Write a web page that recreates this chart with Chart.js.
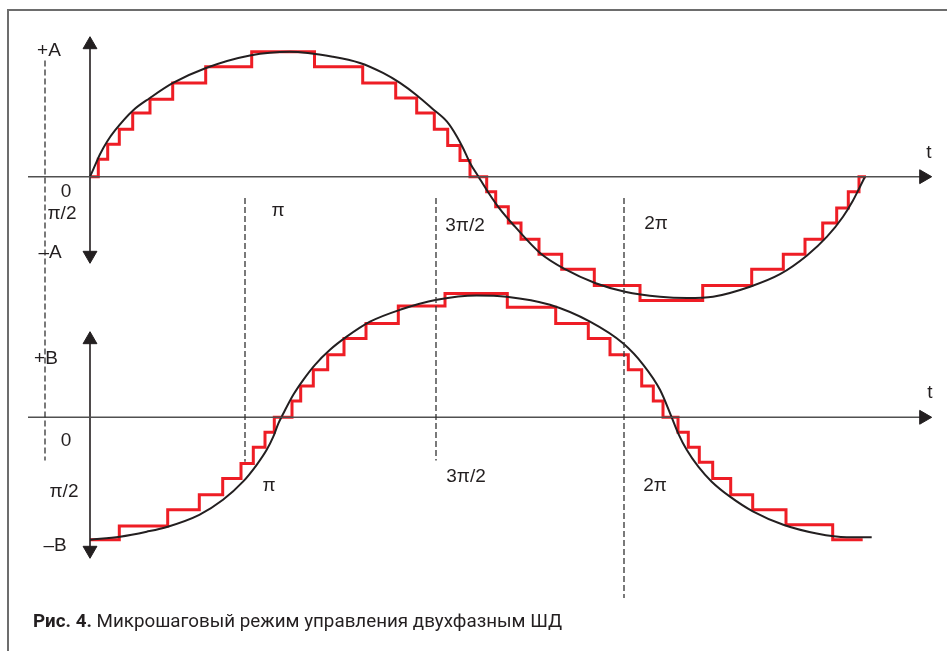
<!DOCTYPE html>
<html lang="ru">
<head>
  <meta charset="UTF-8" />
  <title>Рис. 4</title>
  <script src="https://cdn.jsdelivr.net/npm/chart.js"></script>
  <style>
    body { margin: 0; background: #fff; }
    .wrap { position: relative; width: 947px; height: 651px; overflow: hidden; font-family: "Liberation Sans", Arial, sans-serif; color: #231f20; }
    .frame { position: absolute; left: 7px; top: 9px; width: 960px; height: 660px; border-top: 2px solid #6d6d6d; border-left: 2px solid #6d6d6d; }
    canvas { position: absolute; left: 0; top: 0; }
    .lbl { position: absolute; font-size: 19px; transform: translate(-50%, -50%); white-space: nowrap; }
    .caption { position: absolute; left: 33px; top: 610px; font-family: Roboto, "Liberation Sans", sans-serif; font-size: 18.8px; white-space: nowrap; }
    .caption b { font-weight: 700; }
  </style>
</head>
<body>
  <div class="wrap">
    <div class="frame"></div>
    <canvas id="chart" width="947" height="651"></canvas>

    <!-- top panel labels -->
    <div class="lbl" style="left:49px;top:50px">+A</div>
    <div class="lbl" style="left:66px;top:191px">0</div>
    <div class="lbl" style="left:62px;top:213px">π/2</div>
    <div class="lbl" style="left:50px;top:252px">–A</div>
    <div class="lbl" style="left:278px;top:210px">π</div>
    <div class="lbl" style="left:465px;top:225px">3π/2</div>
    <div class="lbl" style="left:656px;top:223px">2π</div>
    <div class="lbl" style="left:929px;top:152px">t</div>

    <!-- bottom panel labels -->
    <div class="lbl" style="left:46px;top:358px">+B</div>
    <div class="lbl" style="left:66px;top:440px">0</div>
    <div class="lbl" style="left:64px;top:491px">π/2</div>
    <div class="lbl" style="left:55px;top:545px">–B</div>
    <div class="lbl" style="left:269px;top:485px">π</div>
    <div class="lbl" style="left:466px;top:476px">3π/2</div>
    <div class="lbl" style="left:655px;top:485px">2π</div>
    <div class="lbl" style="left:930px;top:392px">t</div>

    <div class="caption"><b>Рис. 4.</b> Микрошаговый режим управления двухфазным ШД</div>
  </div>

  <script>
    // time in arbitrary units (0 = vertical axis), amplitude in units of A / B

    // phase A: smooth current curve
    const curveAT = [0, 0.5, 1.0, 1.7, 2.5, 4.3, 6.0, 8.3, 11.6, 16.0, 20.0, 24.3, 27.0, 29.3, 31.0, 32.7, 34.3, 35.7, 36.7, 37.3,
                     38.0, 38.85, 39.7, 41.0, 42.5, 45.0, 47.5, 50.5, 53.5, 57.0, 59.7, 62.3, 66.0, 69.0, 71.7, 73.7, 75.3, 76.3, 77.0, 77.5];
    const curveA  = [0, 0.09, 0.18, 0.28, 0.37, 0.53, 0.63, 0.75, 0.87, 0.97, 1.0, 0.96, 0.91, 0.83, 0.75, 0.65, 0.54, 0.44, 0.32, 0.23,
                     0.11, 0, -0.11, -0.26, -0.40, -0.61, -0.74, -0.85, -0.92, -0.96, -0.97, -0.96, -0.88, -0.78, -0.63, -0.48, -0.32, -0.19, -0.08, 0];

    // phase A: microstep staircase (time of switch, new level)
    const stepAT = [0, 0.83, 1.77, 2.93, 4.27, 6.0, 8.27, 11.57, 16.17, 22.45, 27.27, 30.57, 32.67, 34.43, 35.77, 37.0, 38.0,
                    39.67, 40.57, 41.83, 43.1, 44.9, 47.17, 50.43, 55.0, 61.27, 66.17, 69.33, 71.5, 73.27, 74.67, 75.83, 76.9, 77.6];
    const stepA  = [0, 0.14, 0.26, 0.38, 0.51, 0.62, 0.75, 0.88, 1.0, 0.88, 0.75, 0.63, 0.51, 0.38, 0.25, 0.13, 0,
                    -0.12, -0.24, -0.37, -0.50, -0.62, -0.74, -0.87, -0.99, -0.87, -0.74, -0.62, -0.50, -0.37, -0.25, -0.12, 0, 0];

    // phase B: smooth current curve
    const curveBT = [0, 3.0, 5.67, 7.77, 10.93, 13.3, 15.3, 16.67, 17.67, 18.33, 18.83, 19.33, 20.33, 21.33, 22.5, 24.0, 25.67, 28.0, 31.0, 34.67,
                     38.67, 41.67, 46.0, 50.0, 53.33, 55.33, 57.0, 58.17, 58.83, 59.67, 60.83, 62.17, 64.0, 66.33, 69.33, 72.67, 75.67, 78.17];
    const curveB  = [-0.98, -0.955, -0.915, -0.875, -0.78, -0.66, -0.515, -0.38, -0.26, -0.155, -0.05, 0.03, 0.18, 0.30, 0.42, 0.54, 0.645, 0.765, 0.86, 0.94,
                     0.975, 0.965, 0.90, 0.765, 0.59, 0.42, 0.22, 0, -0.13, -0.26, -0.395, -0.515, -0.635, -0.755, -0.86, -0.93, -0.96, -0.96];

    // phase B: microstep staircase
    const stepBT = [0, 2.93, 7.77, 10.93, 13.27, 15.1, 16.33, 17.5, 18.43, 20.2, 21.07, 22.33, 23.77, 25.4, 27.6, 30.83, 35.5,
                    41.73, 46.57, 49.83, 52.0, 53.83, 55.17, 56.33, 57.3, 58.8, 59.83, 60.93, 62.27, 64.07, 66.27, 69.6, 74.27, 77.27];
    const stepB  = [-0.98, -0.87, -0.74, -0.62, -0.49, -0.37, -0.24, -0.12, 0, 0.13, 0.25, 0.38, 0.50, 0.63, 0.75, 0.89, 0.99,
                    0.88, 0.75, 0.63, 0.50, 0.38, 0.25, 0.13, 0, -0.12, -0.24, -0.36, -0.49, -0.62, -0.74, -0.86, -0.98, -0.98];

    // dashed phase marks (time, top and bottom end in units of A)
    const markT      = [-4.5, 15.5, 34.6, 53.4];
    const markTop    = [0.93, -0.17, -0.17, -0.17];
    const markBottom = [-2.27, -2.28, -2.27, -3.37];

    // axes: time axis span, amplitude arrow span (arrowhead centres)
    const timeAxis = [-6.2, 83.37];
    const ampAxisA = [1.056, -0.629];
    const ampAxisB = [0.621, -1.064];

    const RED = "#ee1d25";
    const INK = "#231f20";

    function zip(xs, ys) {
      return xs.map((x, i) => ({ x: x, y: ys[i] }));
    }

    const datasets = [];

    // dashed verticals
    markT.forEach((t, i) => {
      datasets.push({
        data: [{ x: t, y: markTop[i] }, { x: t, y: markBottom[i] }],
        yAxisID: "yA",
        borderColor: "#333",
        borderWidth: 1.3,
        borderDash: [6, 3],
        pointRadius: 0,
      });
    });

    // time axes with arrowheads
    ["yA", "yB"].forEach(axis => {
      datasets.push({
        data: [{ x: timeAxis[0], y: 0 }, { x: timeAxis[1], y: 0 }],
        yAxisID: axis,
        borderColor: "#505050",
        borderWidth: 1.6,
        pointRadius: [0, 8],
        pointStyle: "triangle",
        pointRotation: 90,
        pointBackgroundColor: INK,
        pointBorderColor: INK,
        pointBorderWidth: 1,
      });
    });

    // amplitude axes with arrowheads at both ends
    [["yA", ampAxisA], ["yB", ampAxisB]].forEach(([axis, span]) => {
      datasets.push({
        data: [{ x: 0, y: span[0] }, { x: 0, y: span[1] }],
        yAxisID: axis,
        borderColor: INK,
        borderWidth: 1.6,
        pointRadius: 8,
        pointStyle: "triangle",
        pointRotation: [0, 180],
        pointBackgroundColor: INK,
        pointBorderColor: INK,
        pointBorderWidth: 1,
      });
    });

    // smooth curves
    datasets.push({
      data: zip(curveAT, curveA), yAxisID: "yA",
      borderColor: INK, borderWidth: 2, pointRadius: 0, cubicInterpolationMode: "monotone",
    });
    datasets.push({
      data: zip(curveBT, curveB), yAxisID: "yB",
      borderColor: INK, borderWidth: 2, pointRadius: 0, cubicInterpolationMode: "monotone",
    });

    // staircases on top
    datasets.push({
      data: zip(stepAT, stepA), yAxisID: "yA",
      borderColor: RED, borderWidth: 3, pointRadius: 0, stepped: "before",
    });
    datasets.push({
      data: zip(stepBT, stepB), yAxisID: "yB",
      borderColor: RED, borderWidth: 3, pointRadius: 0, stepped: "before",
    });

    new Chart(document.getElementById("chart"), {
      type: "scatter",
      data: { datasets: datasets.map(d => Object.assign({ showLine: true, fill: false, pointHoverRadius: 0 }, d)) },
      options: {
        responsive: false,
        animation: false,
        devicePixelRatio: 1,
        events: [],
        layout: { padding: 0, autoPadding: false },
        plugins: { legend: { display: false }, tooltip: { enabled: false } },
        scales: {
          x:  { type: "linear", display: false, min: -9.0, max: 85.7 },
          yA: { type: "linear", display: false, min: -3.7944, max: 1.4136 },
          yB: { type: "linear", display: false, min: -1.8696, max: 3.3384 },
        },
      },
    });
  </script>
</body>
</html>
